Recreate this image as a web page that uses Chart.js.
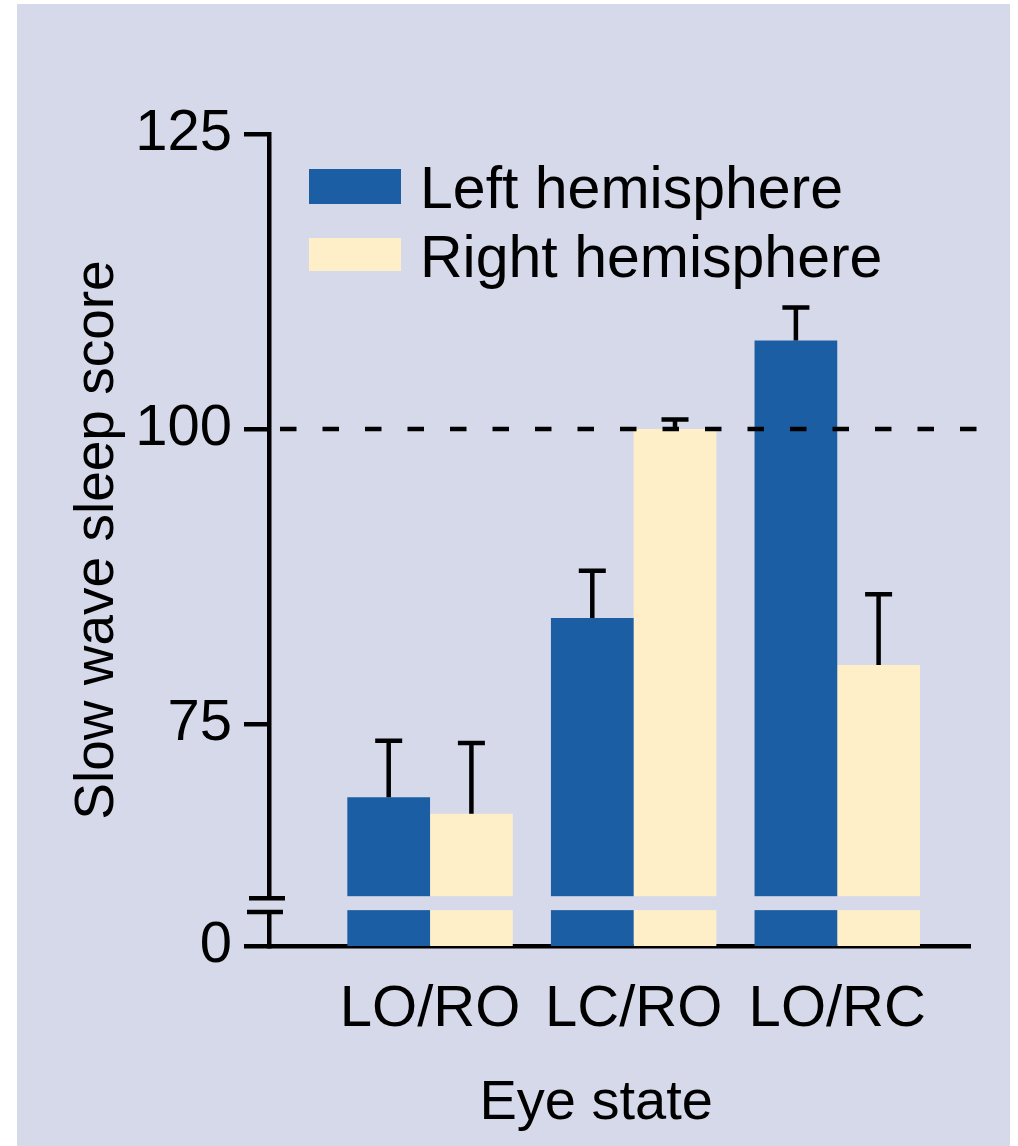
<!DOCTYPE html>
<html>
<head>
<meta charset="utf-8">
<script src="https://cdn.jsdelivr.net/npm/chart.js@4.4.1/dist/chart.umd.min.js"></script>
<style>
  html, body { margin: 0; padding: 0; background: #ffffff; }
  #panel { position: absolute; left: 17px; top: 4px; width: 993px; height: 1142px; background: #d6d9ea; }
  #wrap { position: absolute; left: 0; top: 0; width: 1018px; height: 1146px; }
</style>
</head>
<body>
<div id="panel"></div>
<div id="wrap"><canvas id="c"></canvas></div>
<script>
// ---- data ----
const categories = ['LO/RO', 'LC/RO', 'LO/RC'];
const seriesNames = ['Left hemisphere', 'Right hemisphere'];
const leftMeans = [68.8, 84.0, 107.5];
const leftErrors = [4.8, 4.0, 2.8];
const rightMeans = [67.4, 100.0, 80.0];
const rightErrors = [6.0, 0.8, 6.0];
const yTickValues = [56.2, 75, 100, 125];
const yTickLabels = ['0', '75', '100', '125'];
const referenceLevel = 100;
const breakRange = [59.24, 60.42];
const yTitle = 'Slow wave sleep score';
const xTitle = 'Eye state';

// ---- style ----
const BG = '#d6d9ea';
const BLUE = '#1c5ea3';
const CREAM = '#feefc8';
const INK = '#000000';
const FONT = '"Liberation Sans", Arial, Helvetica, sans-serif';
const NARROW = '"Liberation Sans Narrow", "Liberation Sans", Arial, sans-serif';

function toPoints(values) { return values.map((v, i) => ({ x: i, y: v })); }

const errorBarsPlugin = {
  id: 'errorBars',
  afterDatasetsDraw(chart) {
    const ctx = chart.ctx;
    const yS = chart.scales.y;
    ctx.save();
    ctx.strokeStyle = INK;
    ctx.lineWidth = 4.5;
    chart.data.datasets.forEach((ds, di) => {
      const meta = chart.getDatasetMeta(di);
      meta.data.forEach((bar, i) => {
        const top = yS.getPixelForValue(ds.data[i].y + ds.errors[i]);
        ctx.beginPath();
        ctx.moveTo(bar.x, bar.y);
        ctx.lineTo(bar.x, top);
        ctx.moveTo(bar.x - 13.5, top);
        ctx.lineTo(bar.x + 13.5, top);
        ctx.stroke();
      });
    });
    // reference dashed line
    const yRef = yS.getPixelForValue(referenceLevel);
    const a = chart.chartArea;
    ctx.setLineDash([16.5, 26]);
    ctx.beginPath();
    ctx.moveTo(a.left + 11, yRef);
    ctx.lineTo(a.right + 28, yRef);
    ctx.stroke();
    ctx.restore();
  }
};

const axisBreakPlugin = {
  id: 'axisBreak',
  afterDraw(chart) {
    const ctx = chart.ctx;
    const yS = chart.scales.y;
    const a = chart.chartArea;
    const yTop = yS.getPixelForValue(breakRange[1]);
    const yBot = yS.getPixelForValue(breakRange[0]);
    ctx.save();
    ctx.fillStyle = BG;
    ctx.fillRect(a.left - 4, yTop, a.right - a.left + 4, yBot - yTop);
    ctx.strokeStyle = INK;
    ctx.lineWidth = 4.5;
    ctx.beginPath();
    ctx.moveTo(a.left - 20, yTop + 2);
    ctx.lineTo(a.left + 16, yTop + 2);
    ctx.moveTo(a.left - 22, yBot + 2);
    ctx.lineTo(a.left + 14, yBot + 2);
    ctx.stroke();
    ctx.restore();
  }
};

const legendPlugin = {
  id: 'insideLegend',
  afterDraw(chart) {
    const ctx = chart.ctx;
    const a = chart.chartArea;
    const rows = [
      { boxTop: 35, boxH: 35, base: 74 },
      { boxTop: 104, boxH: 33, base: 143 }
    ];
    ctx.save();
    ctx.font = '59px ' + FONT;
    ctx.textBaseline = 'alphabetic';
    ctx.textAlign = 'left';
    chart.data.datasets.forEach((ds, i) => {
      const r = rows[i];
      ctx.fillStyle = ds.backgroundColor;
      ctx.fillRect(a.left + 40, a.top + r.boxTop, 92, r.boxH);
      ctx.fillStyle = INK;
      ctx.fillText(ds.label, a.left + 151, a.top + r.base);
    });
    ctx.restore();
  }
};

new Chart(document.getElementById('c'), {
  type: 'bar',
  data: {
    datasets: [
      { label: seriesNames[0], data: toPoints(leftMeans), errors: leftErrors, backgroundColor: BLUE, borderWidth: 0 },
      { label: seriesNames[1], data: toPoints(rightMeans), errors: rightErrors, backgroundColor: CREAM, borderWidth: 0 }
    ]
  },
  options: {
    responsive: true,
    maintainAspectRatio: false,
    animation: false,
    events: [],
    layout: { padding: { left: 0, top: 134, right: 48, bottom: 0 } },
    datasets: { bar: { categoryPercentage: 0.8125, barPercentage: 1.0 } },
    plugins: { legend: { display: false }, tooltip: { enabled: false } },
    scales: {
      x: {
        type: 'linear',
        offset: false,
        min: -0.791,
        max: 2.652,
        afterBuildTicks: (s) => { s.ticks = categories.map((c, i) => ({ value: i })); },
        afterFit: (s) => { s.height = 200; },
        grid: { display: false, drawTicks: false, offset: false },
        border: { display: true, color: INK, width: 4.5 },
        ticks: {
          callback: (v, i) => categories[i],
          color: INK,
          font: { family: FONT, size: 58 },
          padding: 29,
          maxRotation: 0,
          autoSkip: false
        },
        title: {
          display: true,
          text: xTitle + '   ',
          color: INK,
          font: { family: FONT, size: 56 },
          padding: { top: 0, bottom: 9 }
        }
      },
      y: {
        type: 'linear',
        min: yTickValues[0],
        max: yTickValues[yTickValues.length - 1],
        afterBuildTicks: (s) => { s.ticks = yTickValues.map(v => ({ value: v })); },
        afterFit: (s) => { s.width = 269; },
        grid: { display: true, drawOnChartArea: false, drawTicks: true, tickLength: 25, color: INK, lineWidth: 4.5 },
        border: { display: true, color: INK, width: 4.5 },
        ticks: {
          callback: (v, i) => yTickLabels[i],
          color: INK,
          font: { family: NARROW, size: 58 },
          padding: 12,
          autoSkip: false
        },
        title: {
          display: true,
          text: yTitle,
          color: INK,
          font: { family: FONT, size: 55 },
          padding: { top: 65, bottom: 0 }
        }
      }
    }
  },
  plugins: [errorBarsPlugin, axisBreakPlugin, legendPlugin]
});
</script>
</body>
</html>
